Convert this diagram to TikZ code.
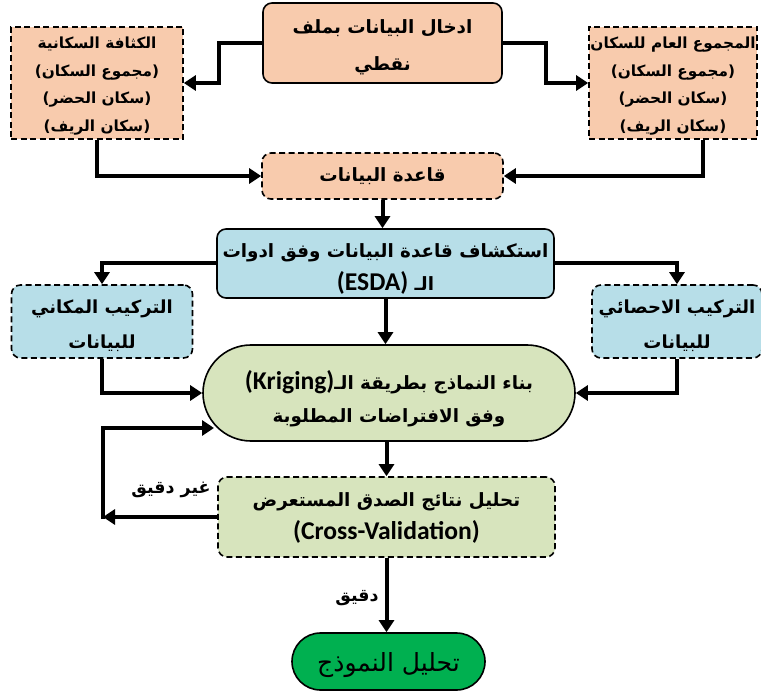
\documentclass[tikz,border=0pt]{standalone}
\usepackage{fontspec}
\setmainfont{DejaVu Sans}
\newfontfamily\arabicfont[Script=Arabic]{DejaVu Sans}
\newfontfamily\latinfont[Scale=1.4]{Carlito}
\TeXXeTstate=1
\usetikzlibrary{arrows.meta,calc}
\definecolor{peach}{HTML}{F8CBAD}
\definecolor{aqua}{HTML}{B7DEE8}
\definecolor{olive}{HTML}{D7E4BD}
\definecolor{bright}{HTML}{00B050}
\begin{document}
\begin{tikzpicture}[x=1pt,y=-1pt,
  box/.style={draw=black, line width=1.6pt, rounded corners=9pt, inner sep=0pt},
  sharpbox/.style={box, rounded corners=0pt},
  dbox/.style={dash pattern=on 6pt off 3.5pt},
  small/.style={align=center, inner sep=0pt, font=\arabicfont\bfseries\fontsize{15.3}{27.5}\selectfont},
  big/.style={align=center, inner sep=0pt, font=\arabicfont\bfseries\fontsize{18.3}{33}\selectfont},
  conn/.style={line width=4pt, -{Triangle[length=12pt,width=15pt]}},
  lbl/.style={font=\arabicfont\bfseries\fontsize{17.5}{20}\selectfont, inner sep=0pt}]
\useasboundingbox (0,0) rectangle (761,695);

\node[box, fill=peach, minimum width=239pt, minimum height=80pt,
  label={[big, font=\arabicfont\bfseries\fontsize{18.3}{37}\selectfont, yshift=-4pt]center:{\beginR ادخال البيانات بملف\endR\\\beginR نقطي\endR}}] (input) at (382.5,43) {};
\node[sharpbox, dbox, fill=peach, minimum width=172pt, minimum height=112pt,
  label={[small, yshift=-3pt]center:{\beginR الكثافة السكانية\endR\\\beginR (مجموع السكان)\endR\\\beginR (سكان الحضر)\endR\\\beginR (سكان الريف)\endR}}] (dens) at (97,83) {};
\node[sharpbox, dbox, fill=peach, minimum width=168pt, minimum height=112pt,
  label={[small, yshift=-3pt]center:{\beginR المجموع العام للسكان\endR\\\beginR (مجموع السكان)\endR\\\beginR (سكان الحضر)\endR\\\beginR (سكان الريف)\endR}}] (total) at (673,83) {};
\node[box, dbox, fill=peach, minimum width=241pt, minimum height=46pt,
  label={[big]center:{\beginR قاعدة البيانات\endR}}] (db) at (382.5,176) {};
\node[box, fill=aqua, minimum width=337pt, minimum height=69pt,
  label={[big, yshift=-5pt]center:{\beginR استكشاف قاعدة البيانات وفق ادوات\endR\\\beginR الـ \beginL{\latinfont\bfseries (ESDA)}\endL\endR}}] (esda) at (385.5,263.5) {};
\node[box, dbox, fill=aqua, minimum width=181pt, minimum height=73pt,
  label={[big, font=\arabicfont\bfseries\fontsize{18}{35}\selectfont, yshift=-4pt]center:{\beginR التركيب المكاني\endR\\\beginR للبيانات\endR}}] (spatial) at (102,321.5) {};
\node[box, dbox, fill=aqua, minimum width=170pt, minimum height=73pt,
  label={[big, font=\arabicfont\bfseries\fontsize{18}{35}\selectfont, yshift=-4pt]center:{\beginR التركيب الاحصائي\endR\\\beginR للبيانات\endR}}] (stat) at (677,321.5) {};
\node[box, fill=olive, rounded corners=48pt, minimum width=372pt, minimum height=96pt,
  label={[big, yshift=-6pt]center:{\beginR بناء النماذج بطريقة الـ\beginL{\latinfont\bfseries (Kriging)}\endL\endR\\\beginR وفق الافتراضات المطلوبة\endR}}] (krig) at (389,393) {};
\node[box, dbox, fill=olive, minimum width=337pt, minimum height=80pt,
  label={[big, yshift=-1pt]center:{\beginR تحليل نتائج الصدق المستعرض\endR\\{\latinfont\bfseries (Cross-Validation)}}}] (cv) at (386.5,517) {};
\node[box, fill=bright, rounded corners=28.5pt, minimum width=193pt, minimum height=57pt,
  label={[inner sep=0pt, font=\arabicfont\fontsize{25}{28}\selectfont, yshift=-4pt]center:{\beginR تحليل النموذج\endR}}] (final) at (388.5,661.5) {};

\node[lbl] (nacc) at (171,490) {\beginR غير دقيق\endR};
\node[lbl] (acc) at (357,598) {\beginR دقيق\endR};

\coordinate (lp) at (103,517);
\coordinate (kin) at (214,428);

\draw[conn] (input.west) -- ++(-43,0) |- (dens.east);
\draw[conn] (input.east) -- ++(43,0) |- (total.west);
\draw[conn] (dens.south) |- (db.west);
\draw[conn] ([xshift=30pt]total.south) |- (db.east);
\draw[conn] (db.south) -- (db.south |- esda.north);
\draw[conn] (esda.west) -| (spatial.north);
\draw[conn] (esda.east) -| (stat.north);
\draw[conn] (esda.south) -- (esda.south |- krig.north);
\draw[conn] (spatial.south) |- (krig.west);
\draw[conn] (stat.south) |- (krig.east);
\draw[conn] (cv.north |- krig.south) -- (cv.north);
\draw[conn] (cv.west) -- (lp);
\draw[conn] (lp) ++(0,2) |- (kin);
\draw[conn] (cv.south) -- (cv.south |- final.north);
\end{tikzpicture}
\end{document}
